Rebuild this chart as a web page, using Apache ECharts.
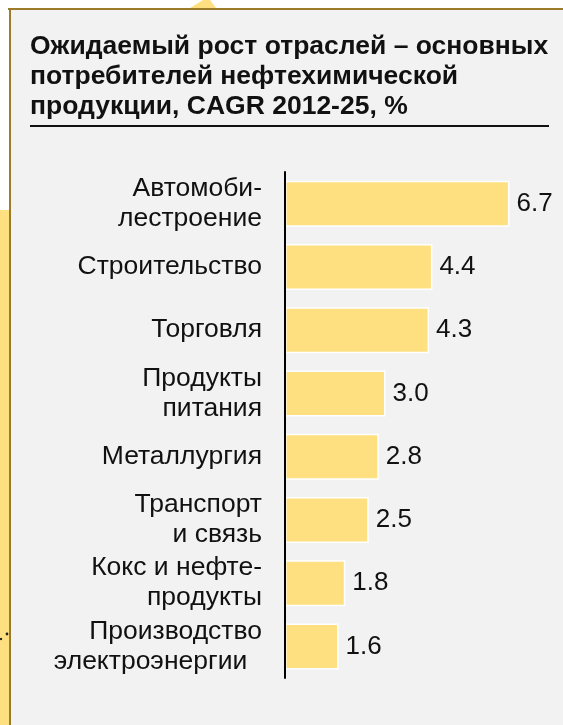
<!DOCTYPE html>
<html>
<head>
<meta charset="utf-8">
<script src="https://cdn.jsdelivr.net/npm/echarts@6/dist/echarts.min.js"></script>
<style>
html,body{margin:0;padding:0;background:#ffffff;}
#c{width:563px;height:725px;}
</style>
</head>
<body>
<div id="c"></div>
<script>
const titleText = 'Ожидаемый рост отраслей – основных\nпотребителей нефтехимической\nпродукции, CAGR 2012-25, %';
const categories = [
  'Автомоби-\nлестроение',
  'Строительство',
  'Торговля',
  'Продукты\nпитания',
  'Металлургия',
  'Транспорт\nи связь',
  'Кокс и нефте-\nпродукты',
  'Производство\nэлектроэнергии  '
];
const values = [6.7, 4.4, 4.3, 3.0, 2.8, 2.5, 1.8, 1.6];

const FONT = '"Liberation Sans", Arial, sans-serif';
const chart = echarts.init(document.getElementById('c'), null, {renderer: 'canvas'});
chart.setOption({
  backgroundColor: '#ffffff',
  animation: false,
  graphic: [
    {type: 'rect', z: -10, shape: {x: 0, y: 210, width: 9, height: 515}, style: {fill: '#ffe080'}},
    {type: 'polygon', z: -10, shape: {points: [[190, 8], [203, 0], [210, 0], [216, 8]]}, style: {fill: '#ffe080'}},
    {type: 'rect', z: -9, shape: {x: 9, y: 8, width: 554, height: 717}, style: {fill: '#f2f2f2'}},
    {type: 'line', z: -8, shape: {x1: 8, y1: 9, x2: 563, y2: 9}, style: {stroke: '#9c7b2a', lineWidth: 2}},
    {type: 'line', z: -8, shape: {x1: 10, y1: 8, x2: 10, y2: 725}, style: {stroke: '#9c7b2a', lineWidth: 2}},
    {type: 'line', z: 5, shape: {x1: 30, y1: 126, x2: 549, y2: 126}, style: {stroke: '#111111', lineWidth: 2}},
    {type: 'circle', z: 5, shape: {cx: 1, cy: 639, r: 1.2}, style: {fill: '#222'}},
    {type: 'circle', z: 5, shape: {cx: 7, cy: 634, r: 1.4}, style: {fill: '#222'}}
  ],
  title: {
    text: titleText,
    left: 30,
    top: 32,
    padding: 0,
    textStyle: {fontFamily: FONT, fontSize: 26.5, fontWeight: 'bold', color: '#111111', lineHeight: 30}
  },
  grid: {left: 285, top: 172, height: 506, width: 268, containLabel: false},
  xAxis: {
    type: 'value', min: 0, max: 8, show: false,
    splitLine: {show: false}
  },
  yAxis: {
    type: 'category',
    data: categories,
    inverse: true,
    z: 5,
    axisLine: {show: true, lineStyle: {color: '#000000', width: 2}},
    axisTick: {show: false},
    axisLabel: {
      margin: 23,
      fontFamily: FONT, fontSize: 26.5, color: '#111111', lineHeight: 30, align: 'right'
    }
  },
  series: [{
    type: 'bar',
    data: values,
    barWidth: 46,
    z: 2,
    itemStyle: {color: '#ffe080', borderColor: '#ffffff', borderWidth: 1.5},
    label: {
      show: true, position: 'right', distance: 7,
      fontFamily: FONT, fontSize: 26, color: '#111111',
      formatter: p => p.value.toFixed(1)
    }
  }]
});
</script>
</body>
</html>
